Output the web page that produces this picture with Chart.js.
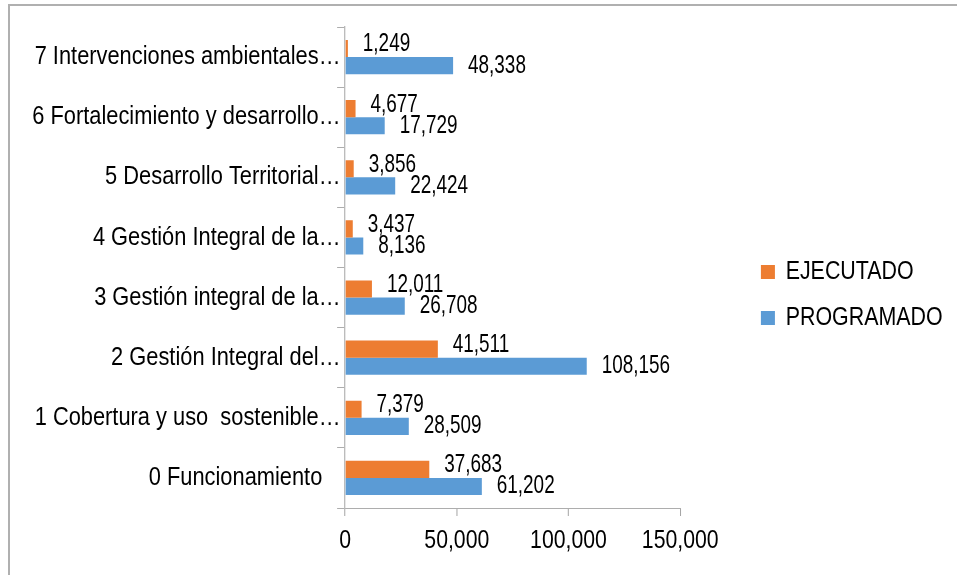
<!DOCTYPE html>
<html>
<head>
<meta charset="utf-8">
<script src="https://cdn.jsdelivr.net/npm/chart.js@4.4.1/dist/chart.umd.min.js"></script>
<style>
  html, body { margin: 0; padding: 0; background: #fff; overflow: hidden; }
  #wrap { position: relative; width: 957px; height: 575px; overflow: hidden; }
  #marco { position: absolute; left: 8px; top: 4px; width: 1000px; height: 620px;
           border: 2px solid #b0b0b0; box-sizing: border-box; }
  #grafico { position: absolute; left: 0; top: 0; }
</style>
</head>
<body>
<div id="wrap">
  <div id="marco"></div>
  <canvas id="grafico" width="1126" height="575"></canvas>
</div>
<script>
// programas (de abajo hacia arriba)
const categorias = [
  '0 Funcionamiento   ',
  '1 Cobertura y uso  sostenible…',
  '2 Gestión Integral del…',
  '3 Gestión integral de la…',
  '4 Gestión Integral de la…',
  '5 Desarrollo Territorial…',
  '6 Fortalecimiento y desarrollo…',
  '7 Intervenciones ambientales…'
];
const ejecutado = [37683, 7379, 41511, 12011, 3437, 3856, 4677, 1249];
const programado = [61202, 28509, 108156, 26708, 8136, 22424, 17729, 48338];
const ticksX = [0, 50000, 100000, 150000];

// sin Arial Narrow: se dibuja todo comprimido en horizontal
const ESTRECHO = 0.85;
const fuente = '"Liberation Sans", Arial, sans-serif';
const gris = '#a6a6a6';

const angosto = {
  id: 'angosto',
  beforeDraw(chart) { chart.ctx.save(); chart.ctx.scale(ESTRECHO, 1); },
  afterDraw(chart) { chart.ctx.restore(); }
};

// valores al final de cada barra
const etiquetas = {
  id: 'etiquetas',
  afterDatasetsDraw(chart) {
    const ctx = chart.ctx;
    chart.data.datasets.forEach((ds, i) => {
      const dy = i === 0 ? -4 : 0;
      chart.getDatasetMeta(i).data.forEach((bar, j) => {
        ctx.save();
        ctx.translate(bar.x + 17.6, bar.y + dy);
        ctx.scale(0.89, 1);
        ctx.font = '25px ' + fuente;
        ctx.fillStyle = '#000';
        ctx.textBaseline = 'middle';
        ctx.fillText(ds.data[j].toLocaleString('en-US'), 0, 0);
        ctx.restore();
      });
    });
  }
};

new Chart(document.getElementById('grafico'), {
  type: 'bar',
  data: {
    labels: categorias,
    datasets: [
      { label: 'EJECUTADO', data: ejecutado, backgroundColor: '#ED7D31', yAxisID: 'y',
        categoryPercentage: 0.57, barPercentage: 1.0 },
      { label: 'PROGRAMADO', data: programado, backgroundColor: '#5B9BD5', yAxisID: 'y',
        categoryPercentage: 0.57, barPercentage: 1.0 }
    ]
  },
  options: {
    indexAxis: 'y',
    responsive: false,
    animation: false,
    locale: 'en-US',
    layout: { padding: { top: 27, right: 7, bottom: 12, left: 0 } },
    scales: {
      x: {
        min: ticksX[0],
        max: ticksX[ticksX.length - 1],
        afterBuildTicks: s => { s.ticks = ticksX.map(v => ({ value: v })); },
        afterFit: s => { s.height = 55; },
        grid: { drawOnChartArea: false, tickLength: 8, color: gris, lineWidth: 1.2 },
        border: { color: gris },
        ticks: { font: { family: fuente, size: 25 }, color: '#000', padding: 10,
                 maxRotation: 0, callback: v => v.toLocaleString('en-US') }
      },
      y: {
        reverse: true,
        afterFit: s => { s.width = 406; },
        grid: { drawOnChartArea: false, tickLength: 9.4, color: gris, offset: true },
        border: { color: gris, width: 1.2 },
        ticks: { font: { family: fuente, size: 25.7 }, color: '#000', padding: -4 }
      },
      // hueco entre el área de barras y la leyenda
      hueco: {
        axis: 'y',
        type: 'linear',
        position: 'right',
        grid: { display: false },
        border: { display: false },
        ticks: { display: false },
        afterFit: s => { s.width = 74.1; }
      }
    },
    plugins: {
      legend: {
        position: 'right',
        maxWidth: 300,
        labels: { boxWidth: 16.5, boxHeight: 14, padding: 20.8, color: '#000',
                  font: { family: fuente, size: 25.2 } }
      },
      tooltip: { enabled: false }
    }
  },
  plugins: [angosto, etiquetas]
});
</script>
</body>
</html>
